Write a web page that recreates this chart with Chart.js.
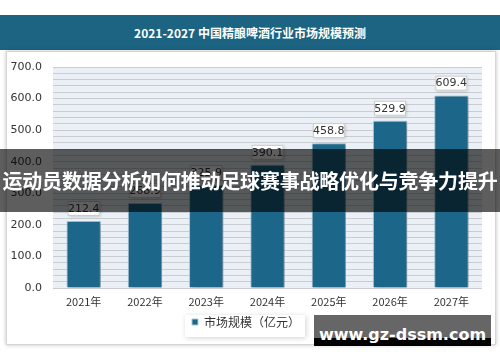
<!DOCTYPE html>
<html>
<head>
<meta charset="utf-8">
<script src="https://cdn.jsdelivr.net/npm/chart.js@4.4.1/dist/chart.umd.min.js"></script>
<style>
    html, body { margin: 0; padding: 0; background: #fff; }
    body { width: 500px; height: 362px; position: relative; overflow: hidden; font-family: "Noto Sans CJK SC", "Noto Sans", sans-serif; }
    #header { position: absolute; left: 0; top: 15px; width: 500px; height: 35px; background: #1c6482;
        color: #fff; font-weight: bold; font-size: 12px; line-height: 35px; text-align: center; }
    #frame { position: absolute; left: 6px; top: 51px; width: 488px; height: 292px; background: #fff;
        border: 1px solid #d6d6d6; box-shadow: 0 0 4px rgba(0, 0, 0, 0.25); }
    #chart-wrap { position: absolute; left: 0; top: 0; width: 500px; height: 362px; }
    #banner { position: absolute; left: 0; top: 149px; width: 500px; height: 63px; background: rgba(0, 0, 0, 0.63);
        color: #fff; font-weight: bold; font-size: 20px; line-height: 63px; text-align: center; white-space: nowrap; letter-spacing: -0.2px; }
    #mark { position: absolute; left: 314px; top: 315px; width: 177px; height: 31px; background: #666; }
    #mark-bar { position: absolute; left: 0; bottom: 0; width: 100%; height: 8px; background: #000; }
    #mark-text { position: absolute; left: 0; top: 9px; width: 100%; text-align: center; color: #fff; white-space: nowrap;
        font-family: "DejaVu Sans", sans-serif; font-weight: bold; font-size: 16px; line-height: 22px; }
</style>
</head>
<body>
<div id="header">2021-2027 中国精酿啤酒行业市场规模预测</div>
<div id="frame"></div>
<div id="chart-wrap"><canvas id="resultChart" width="500" height="362"></canvas></div>
<div id="banner">运动员数据分析如何推动足球赛事战略优化与竞争力提升</div>
<div id="mark"><div id="mark-bar"></div><div id="mark-text">www.gz-dssm.com</div></div>
<script>
const years = ["2021年", "2022年", "2023年", "2024年", "2025年", "2026年", "2027年"];
const marketSize = [212.4, 268.9, 325.9, 390.1, 458.8, 529.9, 609.4];
const seriesName = "市场规模（亿元）";

const plotBackground = {
    id: "plotBackground",
    beforeDraw(chart) {
        const { ctx, chartArea: a } = chart;
        ctx.save();
        ctx.fillStyle = "#eaf0f5";
        ctx.fillRect(a.left, a.top, a.right - a.left, a.bottom - a.top);
        // white box behind the legend
        ctx.shadowColor = "rgba(0,0,0,0.18)";
        ctx.shadowBlur = 5;
        ctx.shadowOffsetX = 1;
        ctx.shadowOffsetY = 1;
        ctx.fillStyle = "#fff";
        ctx.fillRect(185, 315, 120, 22);
        ctx.restore();
    },
    beforeDatasetsDraw(chart) {
        const ctx = chart.ctx;
        ctx.save();
        ctx.shadowColor = "rgba(0,0,0,0.3)";
        ctx.shadowBlur = 4;
        ctx.shadowOffsetX = 3;
        ctx.shadowOffsetY = 1;
    },
    afterDatasetsDraw(chart) {
        chart.ctx.restore();
        const ctx = chart.ctx;
        const meta = chart.getDatasetMeta(0);
        ctx.save();
        ctx.font = "11px 'DejaVu Sans', sans-serif";
        ctx.textAlign = "center";
        ctx.textBaseline = "middle";
        meta.data.forEach((bar, i) => {
            const text = marketSize[i].toFixed(1);
            const w = 32, h = 15;
            const x = bar.x - w / 2, y = bar.y - 5 - h;
            ctx.shadowColor = "rgba(0,0,0,0.2)";
            ctx.shadowBlur = 3;
            ctx.shadowOffsetX = 1;
            ctx.shadowOffsetY = 1;
            ctx.fillStyle = "#fff";
            ctx.fillRect(x, y, w, h);
            ctx.shadowColor = "transparent";
            ctx.strokeStyle = "#c8c8c8";
            ctx.lineWidth = 1;
            ctx.strokeRect(x + 0.5, y + 0.5, w - 1, h - 1);
            ctx.fillStyle = "#333";
            ctx.fillText(text, bar.x, y + h / 2 + 0.5);
        });
        ctx.restore();
    },
};

const ctx = document.getElementById("resultChart").getContext("2d");
new Chart(ctx, {
    type: "bar",
    data: {
        labels: years,
        datasets: [
            {
                label: seriesName,
                data: marketSize,
                backgroundColor: "#1b6689",
                borderColor: "#a9c6d6",
                borderWidth: 1,
                categoryPercentage: 1,
                barPercentage: 0.56,
            },
        ],
    },
    options: {
        responsive: false,
        animation: false,
        layout: { padding: { left: 10, right: 18, top: 67, bottom: 24 } },
        plugins: {
            tooltip: { enabled: false },
            legend: {
                position: "bottom",
                labels: {
                    boxWidth: 6,
                    boxHeight: 6,
                    padding: 8,
                    color: "#333",
                    font: { family: "'Noto Sans CJK SC', sans-serif", size: 12 },
                },
            },
        },
        scales: {
            x: {
                grid: { display: false },
                border: { display: false },
                ticks: { color: "#333", padding: 0, font: { family: "'Noto Sans CJK SC', sans-serif", size: 11, lineHeight: 1 } },
                afterFit: (s) => { s.height = 20; },
            },
            y: {
                min: 0,
                max: 700,
                grid: { color: "#c9cdd1", lineWidth: 1, drawTicks: false },
                border: { display: false },
                ticks: {
                    stepSize: 20,
                    autoSkip: false,
                    padding: 11,
                    color: "#333",
                    font: { family: "'DejaVu Sans', sans-serif", size: 11 },
                    callback: (v) => (v % 100 === 0 ? v.toFixed(1) : ""),
                },
                afterFit: (s) => { s.width = 43; },
            },
        },
    },
    plugins: [plotBackground],
});
</script>
</body>
</html>
